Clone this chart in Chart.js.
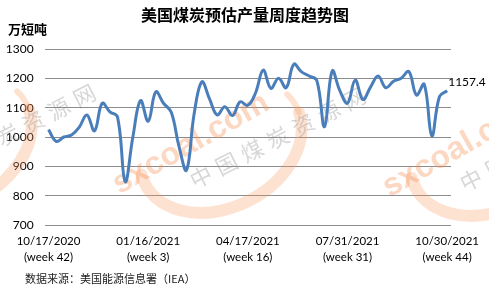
<!DOCTYPE html>
<html>
<head>
<meta charset="utf-8">
<script src="https://cdn.jsdelivr.net/npm/chart.js@4"></script>
<style>
  body { margin: 0; background: #fff; }
  #wrap { width: 489px; height: 293px; position: relative; }
</style>
</head>
<body>
<div id="wrap"><canvas id="chart"></canvas></div>
<script>
// weekly estimated US coal production, 10k short tons
var weekLabels = [
  ['10/17/2020', '(week 42)'],
  ['01/16/2021', '(week 3)'],
  ['04/17/2021', '(week 16)'],
  ['07/31/2021', '(week 31)'],
  ['10/30/2021', '(week 44)']
];
var labelEvery = 13;

var production = [
  1025, 985, 1000, 1007, 1033, 1075, 1021, 1115, 1086, 1068,
  848, 1000, 1124, 1054, 1154, 1115, 1085, 970, 887, 1080,
  1188, 1130, 1075, 1103, 1073, 1120, 1108, 1150, 1228, 1166,
  1200, 1168, 1248, 1222, 1208, 1192, 1035, 1225, 1158, 1115,
  1194, 1128, 1170, 1208, 1168, 1190, 1200, 1223, 1143, 1180,
  1004, 1138, 1157.4
];

var yTicks = [700, 800, 900, 1000, 1100, 1200, 1300];

var title = '美国煤炭预估产量周度趋势图';
var unit = '万短吨';
var source = '数据来源：美国能源信息署（IEA）';
var markCn = '中国煤炭资源网';
var markEn = 'sxcoal.com';

var categories = production.map(function (v, i) {
  return i % labelEvery === 0 ? weekLabels[i / labelEvery] : '';
});

var cjk = '"Noto Sans CJK SC", "Noto Sans", sans-serif';
var num = 'Lato, "Liberation Sans", sans-serif';

// faint site watermark, repeated along the picture
function drawMark(ctx, cx, cy) {
  ctx.save();
  ctx.translate(cx, cy);
  ctx.rotate(-27 * Math.PI / 180);

  ctx.strokeStyle = 'rgba(247, 150, 90, 0.28)';
  ctx.lineCap = 'round';
  ctx.lineWidth = 12;
  ctx.beginPath();
  ctx.ellipse(5, 3, 85, 62, 0, 0.1, Math.PI * 1.05);
  ctx.stroke();
  ctx.lineWidth = 6;
  ctx.beginPath();
  ctx.ellipse(5, 3, 85, 62, 0, -0.25, 0.1);
  ctx.stroke();

  ctx.save();
  ctx.translate(-108, -8);
  ctx.rotate(-0.045);
  ctx.fillStyle = 'rgba(245, 140, 80, 0.35)';
  ctx.font = 'bold 32px "Liberation Sans", sans-serif';
  ctx.textAlign = 'left';
  ctx.textBaseline = 'middle';
  ctx.fillText(markEn, 0, 0);
  ctx.restore();

  ctx.fillStyle = 'rgba(140, 140, 140, 0.35)';
  ctx.font = '22px ' + cjk;
  ctx.textAlign = 'center';
  ctx.textBaseline = 'middle';
  for (var k = 0; k < markCn.length; k++) {
    ctx.fillText(markCn[k], -27 + k * 28.7, 22);
  }
  ctx.restore();
}

var watermark = {
  id: 'watermark',
  beforeDatasetsDraw: function (chart) {
    var ctx = chart.ctx;
    drawMark(ctx, -55, 142);
    drawMark(ctx, 215, 145);
    drawMark(ctx, 485, 148);
  }
};

var extras = {
  id: 'extras',
  afterDraw: function (chart) {
    var ctx = chart.ctx;
    ctx.save();
    ctx.fillStyle = '#000';
    ctx.textBaseline = 'middle';

    ctx.font = 'bold 16px ' + cjk;
    ctx.textAlign = 'center';
    ctx.fillText(title, 245, 15);

    ctx.font = 'bold 13px ' + cjk;
    ctx.textAlign = 'left';
    ctx.fillText(unit, 8, 29);

    ctx.font = '11px ' + cjk;
    ctx.fillStyle = '#222';
    ctx.fillText(source, 25, 279);

    // value label on the last point
    var pts = chart.getDatasetMeta(0).data;
    var last = pts[pts.length - 1];
    ctx.font = '12px ' + num;
    ctx.fillStyle = '#000';
    ctx.fillText(production[production.length - 1].toFixed(1), last.x + 1, last.y - 9);
    ctx.restore();
  }
};

new Chart(document.getElementById('chart'), {
  type: 'line',
  data: {
    labels: categories,
    datasets: [{
      data: production,
      borderColor: '#4A7EBB',
      borderWidth: 3,
      pointRadius: 0,
      tension: 0.4,
      fill: false
    }]
  },
  options: {
    responsive: true,
    maintainAspectRatio: false,
    animation: false,
    layout: { padding: { top: 49, right: 38, left: 0, bottom: 0 } },
    plugins: {
      legend: { display: false },
      title: { display: false },
      tooltip: { enabled: false }
    },
    scales: {
      x: {
        offset: true,
        grid: { display: false, drawTicks: false },
        border: { display: false },
        ticks: {
          autoSkip: false,
          maxRotation: 0,
          padding: 8,
          color: '#000',
          font: { family: num, size: 11.5, lineHeight: 1.4 }
        },
        afterFit: function (scale) { scale.height = 68; }
      },
      y: {
        min: 700,
        max: 1300,
        afterBuildTicks: function (scale) {
          scale.ticks = yTicks.map(function (v) { return { value: v }; });
        },
        grid: { color: '#8c8c8c', lineWidth: 1, drawTicks: false },
        border: { display: false },
        ticks: {
          padding: 11,
          color: '#000',
          font: { family: num, size: 12 },
          callback: function (v) { return String(v); }
        },
        afterFit: function (scale) { scale.width = 44.7; }
      }
    }
  },
  plugins: [watermark, extras]
});
</script>
</body>
</html>
